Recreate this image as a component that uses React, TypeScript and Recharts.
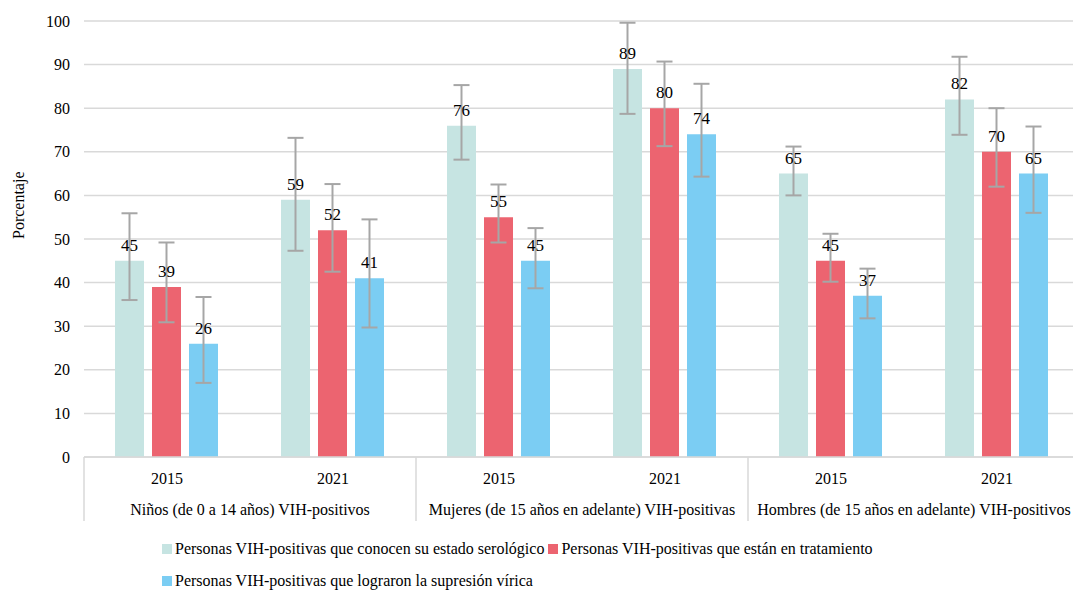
import { Bar, BarChart, CartesianGrid, ErrorBar, LabelList, Legend, XAxis, YAxis, Label } from 'recharts'

const years = ['2015', '2021', '2015', '2021', '2015', '2021']
const groups = [
  'Niños (de 0 a 14 años) VIH-positivos',
  'Mujeres (de 15 años en adelante) VIH-positivas',
  'Hombres (de 15 años en adelante) VIH-positivos',
]

const conocen = [45, 59, 76, 89, 65, 82]
const conocenLow = [36, 47.3, 68.2, 78.7, 60, 73.9]
const conocenHigh = [55.9, 73.2, 85.3, 99.6, 71.2, 91.8]

const tratamiento = [39, 52, 55, 80, 45, 70]
const tratamientoLow = [30.9, 42.5, 49.2, 71.3, 40.2, 62]
const tratamientoHigh = [49.2, 62.6, 62.5, 90.7, 51.2, 80]

const supresion = [26, 41, 45, 74, 37, 65]
const supresionLow = [17, 29.7, 38.7, 64.3, 31.8, 56]
const supresionHigh = [36.7, 54.5, 52.5, 85.6, 43.2, 75.8]

const yTicks = [0, 10, 20, 30, 40, 50, 60, 70, 80, 90, 100]

const series = [
  { key: 'conocen', name: 'Personas VIH-positivas que conocen su estado serológico', color: '#c6e4e2' },
  { key: 'tratamiento', name: 'Personas VIH-positivas que están en tratamiento', color: '#ec6470' },
  { key: 'supresion', name: 'Personas VIH-positivas que lograron la supresión vírica', color: '#7bcdf3' },
]

const data = years.map((y, i) => ({
  year: y,
  group: groups[Math.floor(i / 2)],
  conocen: conocen[i],
  conocenErr: [conocen[i] - conocenLow[i], conocenHigh[i] - conocen[i]],
  tratamiento: tratamiento[i],
  tratamientoErr: [tratamiento[i] - tratamientoLow[i], tratamientoHigh[i] - tratamiento[i]],
  supresion: supresion[i],
  supresionErr: [supresion[i] - supresionLow[i], supresionHigh[i] - supresion[i]],
}))

const FONT = 'Liberation Serif'

// year on the first row, group name + separators on the second
function YearTick(props: any) {
  const { x, y, payload, index } = props
  const half = payload.offset ?? 0
  const isFirst = index % 2 === 0
  const isLast = index === years.length - 1
  return (
    <g>
      <text x={x} y={y} dy={13} textAnchor="middle" fill="#000" fontSize={16} fontFamily={FONT}>
        {payload.value}
      </text>
      {isFirst && (
        <>
          <line x1={x - half} x2={x - half} y1={y - 14} y2={y + 50} stroke="#d9d9d9" strokeWidth={1.5} />
          <text x={x + half} y={y} dy={44} textAnchor="middle" fill="#000" fontSize={16} fontFamily={FONT}>
            {groups[Math.floor(index / 2)]}
          </text>
        </>
      )}
      {isLast && <line x1={x + half} x2={x + half} y1={y - 14} y2={y + 50} stroke="#d9d9d9" strokeWidth={1.5} />}
    </g>
  )
}

function LegendContent() {
  const item = (s: (typeof series)[number]) => (
    <span key={s.key} style={{ display: 'inline-flex', alignItems: 'center', marginRight: 4 }}>
      <span style={{ display: 'inline-block', width: 10, height: 10, background: s.color, marginRight: 3 }} />
      <span>{s.name}</span>
    </span>
  )
  return (
    <div style={{ fontFamily: FONT, fontSize: 16, color: '#000', paddingLeft: 162 }}>
      <div style={{ height: 32, display: 'flex', alignItems: 'center', marginTop: 10 }}>
        {item(series[0])}
        {item(series[1])}
      </div>
      <div style={{ height: 32, display: 'flex', alignItems: 'center' }}>{item(series[2])}</div>
    </div>
  )
}

export default function App() {
  return (
    <div style={{ position: 'absolute', left: 0, top: 0, width: 1073, height: 590, overflow: 'hidden', background: '#fff' }}>
      <BarChart
        width={1080}
        height={590}
        data={data}
        margin={{ top: 21, right: 0, left: 0, bottom: 0 }}
        barGap={8}
        barCategoryGap={31}
      >
        <CartesianGrid vertical={false} stroke="#d9d9d9" strokeWidth={1.5} />
        <XAxis
          dataKey="year"
          height={66}
          interval={0}
          axisLine={{ stroke: '#d9d9d9', strokeWidth: 1.5 }}
          tickLine={false}
          tickSize={0}
          tickMargin={14}
          tick={<YearTick />}
        />
        <YAxis
          width={84}
          domain={[0, 100]}
          ticks={yTicks}
          axisLine={false}
          tickLine={false}
          tickSize={0}
          tickMargin={14}
          tick={{ fill: '#000', fontSize: 16, fontFamily: FONT }}
        >
          <Label value="Porcentaje" angle={-90} position="insideLeft" offset={18} fill="#000" fontSize={16} fontFamily={FONT} />
        </YAxis>
        <Legend verticalAlign="bottom" height={67} content={<LegendContent />} />
        {series.map((s) => (
          <Bar key={s.key} dataKey={s.key} name={s.name} fill={s.color} isAnimationActive={false}>
            <ErrorBar dataKey={`${s.key}Err`} width={8} stroke="#a6a6a6" strokeWidth={2} isAnimationActive={false} />
            <LabelList dataKey={s.key} position="top" offset={10} fill="#000" fontSize={17} fontFamily={FONT} />
          </Bar>
        ))}
      </BarChart>
    </div>
  )
}
